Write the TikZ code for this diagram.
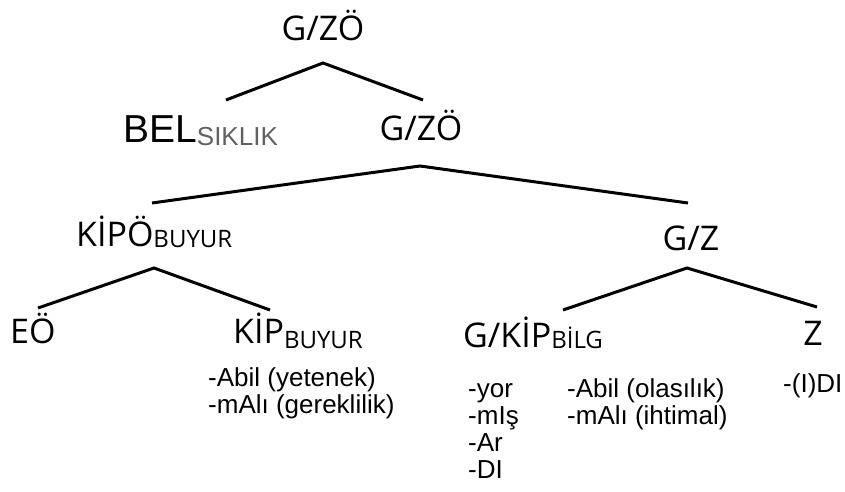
\documentclass[tikz,border=0pt]{standalone}
\usepackage{fontspec}
\setmainfont{Open Sans}
\newfontfamily\arialf{Liberation Sans}
\newcommand\mysub[2][-3pt]{\raisebox{#1}{\fontsize{24}{24}\selectfont #2}}
\newcommand\mylines[1]{\begin{tabular}[t]{@{}l@{}}#1\end{tabular}}
\begin{document}
\begin{tikzpicture}[x=1pt,y=-1pt,
  lbl/.style={inner sep=0pt, font=\fontsize{34}{34}\selectfont},
  lst/.style={inner sep=0pt, anchor=base west, font=\arialf\fontsize{26}{27}\selectfont},
  branch/.style={line width=3pt, line join=miter, black}]
\useasboundingbox[fill=white] (0,0) rectangle (845,492);
% labels
\node[lbl, anchor=base] (top) at (323,41) {G/ZÖ};
\node[inner sep=0pt, anchor=base west] (bel) at (123,142) {\arialf\fontsize{39}{39}\selectfont BEL\raisebox{-4pt}{\color{black!62}\fontsize{26}{26}\selectfont SIKLIK}};
\node[lbl, anchor=base] (gz2) at (421,140) {G/ZÖ};
\node[lbl, anchor=base west] (kipo) at (76,246) {KİPÖ\mysub[-1pt]{BUYUR}};
\node[lbl, anchor=base] (gz) at (691,250) {G/Z};
\node[lbl, anchor=base west] (eo) at (10,343) {EÖ};
\node[lbl, anchor=base west] (kip) at (233,343) {KİP\mysub[-5pt]{BUYUR}};
\node[lbl, anchor=base west] (gkip) at (463,347) {G/KİP\mysub[-1pt]{BİLG}};
\node[lbl, anchor=base] (z) at (813,345) {Z};
% morpheme lists
\node[lst] (kipl) at (208,386) {\mylines{-Abil (yetenek)\\-mAlı (gereklilik)}};
\node[lst] (gkipa) at (468,397) {\mylines{-yor\\-mIş\\-Ar\\-DI}};
\node[lst] (gkipb) at (567,397) {\mylines{-Abil (olasılık)\\-mAlı (ihtimal)}};
\node[lst] (zl) at (783,392) {-(I)DI};
% branch points
\coordinate (a1) at (323,63);
\coordinate (l1) at (226,100);
\coordinate (r1) at (423,100);
\coordinate (a2) at (420,166);
\coordinate (l2) at (152,203);
\coordinate (r2) at (688,203);
\coordinate (a3) at (154,268);
\coordinate (l3) at (38,308);
\coordinate (r3) at (270,310);
\coordinate (a4) at (687,268);
\coordinate (l4) at (563,310);
\coordinate (r4) at (817,307);
\draw[branch] (l1) -- (a1) -- (r1);
\draw[branch] (l2) -- (a2) -- (r2);
\draw[branch] (l3) -- (a3) -- (r3);
\draw[branch] (l4) -- (a4) -- (r4);
\end{tikzpicture}
\end{document}
